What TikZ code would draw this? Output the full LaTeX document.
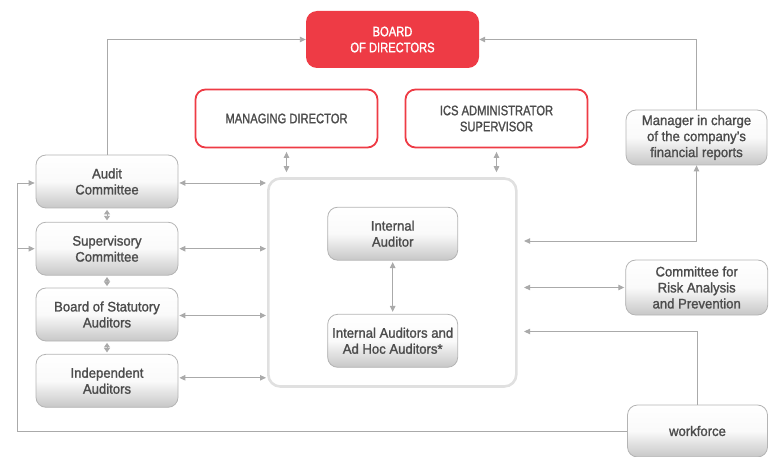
\documentclass[tikz,border=0pt]{standalone}
\usepackage{fontspec}
\setmainfont[FakeStretch=0.95,FakeBold=1.4]{Liberation Sans}
\newfontfamily\capsfont[FakeStretch=0.81,FakeBold=1.4]{Liberation Sans}
\usetikzlibrary{arrows.meta,calc}
\definecolor{bred}{HTML}{EE3B45}
\definecolor{lgray}{HTML}{B4B4B4}
\definecolor{tgray}{HTML}{4C4C4C}
\definecolor{cgray}{HTML}{E0E0E0}
\definecolor{agray}{HTML}{AAAAAA}
\begin{document}
\begin{tikzpicture}[x=1pt,y=-1pt,
  txt/.style={align=center, font=\fontsize{13.8}{16}\selectfont, inner sep=0pt},
  ctxt/.style={align=center, font=\capsfont\fontsize{13.8}{16}\selectfont, inner sep=0pt},
  gbox/.style={txt, draw=lgray, line width=0.8pt, rounded corners=10pt,
    top color=white, bottom color=black!22, middle color=black!2, text=tgray},
  rbox/.style={ctxt, draw=bred, line width=1.8pt, rounded corners=10pt, fill=white, text=tgray},
  fbox/.style={ctxt, fill=bred, rounded corners=11pt, text=white},
  conn/.style={draw=agray, line width=0.9pt},
  arr/.style={conn, -{Triangle[length=6pt,width=5.5pt]}},
  dbl/.style={conn, {Triangle[length=6pt,width=5.5pt]}-{Triangle[length=6pt,width=5.5pt]}},
  sdbl/.style={conn, {Triangle[length=4.5pt,width=6pt]}-{Triangle[length=4.5pt,width=6pt]}, shorten <=1.5pt, shorten >=1.5pt}
]
\useasboundingbox (0,0) rectangle (776,457);

% nodes
\node[fbox, minimum width=173pt, minimum height=57pt] (board) at (392.5,39.5) {BOARD\\OF DIRECTORS};
\node[rbox, minimum width=182pt, minimum height=58pt] (md) at (286.5,118.5) {MANAGING DIRECTOR};
\node[rbox, minimum width=182pt, minimum height=58pt] (ics) at (496.5,118.5) {ICS ADMINISTRATOR\\SUPERVISOR};
\node[gbox, minimum width=141pt, minimum height=55pt] (mgr) at (696.5,137.5) {Manager in charge\\of the company's\\financial reports};

\node[gbox, minimum width=142pt, minimum height=53pt] (audit) at (107,181.5) {Audit\\Committee};
\node[gbox, minimum width=142pt, minimum height=53pt] (sup) at (107,248.7) {Supervisory\\Committee};
\node[gbox, minimum width=142pt, minimum height=53pt] (bsa) at (107,314.5) {Board of Statutory\\Auditors};
\node[gbox, minimum width=142pt, minimum height=53pt] (ind) at (107,380.8) {Independent\\Auditors};

\node[draw=cgray, line width=2.6pt, rounded corners=12pt, minimum width=248pt, minimum height=208pt, inner sep=0pt] (cont) at (392.3,282.5) {};
\node[gbox, minimum width=130pt, minimum height=53pt] (ia) at (392.7,233.7) {Internal\\Auditor};
\node[gbox, minimum width=130pt, minimum height=53pt] (iah) at (392.7,340.8) {Internal Auditors and\\Ad Hoc Auditors*};

\node[gbox, minimum width=142pt, minimum height=55pt] (risk) at (696.7,287.5) {Committee for\\Risk Analysis\\and Prevention};
\node[gbox, minimum width=140pt, minimum height=52pt] (wf) at (697.5,431) {workforce};

\coordinate (lx) at (17,0);

% connectors
\draw[arr] (audit.north) |- (board.west);
\draw[arr] (mgr.north) |- (board.east);

\draw[dbl] ([yshift=-3.5pt]md.south) -- ([yshift=5pt]cont.north -| md.south);
\draw[dbl] ([yshift=-3.5pt]ics.south) -- ([yshift=5pt]cont.north -| ics.south);

\draw[dbl, shorten <=1pt, shorten >=1pt] ([yshift=-1.5pt]audit.east) -- ([yshift=-1.5pt]cont.west |- audit.east);
\draw[dbl, shorten <=1pt, shorten >=1pt] (sup.east) -- (cont.west |- sup.east);
\draw[dbl, shorten <=1pt, shorten >=1pt] ([yshift=-1pt]bsa.east) -- ([yshift=-1pt]cont.west |- bsa.east);
\draw[dbl, shorten <=1pt, shorten >=1pt] ([yshift=3pt]ind.east) -- ([yshift=3pt]cont.west |- ind.east);

\draw[sdbl] (audit.south) -- (sup.north);
\draw[sdbl] (sup.south) -- (bsa.north);
\draw[sdbl] (bsa.south) -- (ind.north);

\draw[dbl, shorten <=1.5pt, shorten >=2pt] (ia.south) -- (iah.north);

\draw[dbl, shorten <=6.5pt] (cont.east |- 0,241) -| (mgr.south);
\draw[dbl, shorten <=6.5pt, shorten >=1pt] (cont.east |- risk.west) -- (risk.west);
\draw[arr, shorten >=6.5pt] (wf.north) |- (cont.east |- 0,331.5);

\draw[arr, shorten >=1pt] (wf.west) -- (wf.west -| lx) |- ([yshift=-1.5pt]audit.west);
\draw[arr, shorten >=1pt] (sup.west -| lx) -- (sup.west);
\end{tikzpicture}
\end{document}
